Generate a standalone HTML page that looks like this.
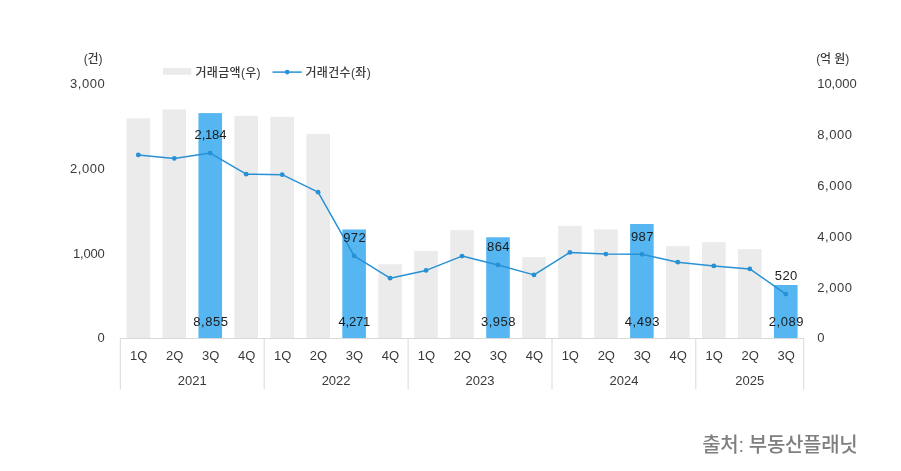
<!DOCTYPE html>
<html lang="ko"><head><meta charset="utf-8"><title>chart</title>
<style>
html,body{margin:0;padding:0;background:#fff;}
body{width:901px;height:471px;overflow:hidden;}
svg{display:block;}
text{font-family:"Liberation Sans","Noto Sans CJK KR","NanumGothic",sans-serif;}
.t{font-size:13px;fill:#3a3a3a;}
.d{font-size:13px;fill:#1c1c1c;}
.k{font-size:12px;fill:#3a3a3a;font-weight:500;}
.src{font-size:20px;fill:#7f7f7f;font-weight:500;}
</style></head><body>
<svg width="901" height="471" viewBox="0 0 901 471">
<rect width="901" height="471" fill="#fff"/>

<rect x="126.50" y="118.3" width="23.6" height="219.7" fill="#ebebeb"/>
<rect x="162.47" y="109.3" width="23.6" height="228.7" fill="#ebebeb"/>
<rect x="198.44" y="113.1" width="23.6" height="224.9" fill="#56b6f1"/>
<rect x="234.41" y="115.8" width="23.6" height="222.2" fill="#ebebeb"/>
<rect x="270.38" y="116.8" width="23.6" height="221.2" fill="#ebebeb"/>
<rect x="306.35" y="133.9" width="23.6" height="204.1" fill="#ebebeb"/>
<rect x="342.32" y="229.5" width="23.6" height="108.5" fill="#56b6f1"/>
<rect x="378.29" y="264.2" width="23.6" height="73.8" fill="#ebebeb"/>
<rect x="414.26" y="250.9" width="23.6" height="87.1" fill="#ebebeb"/>
<rect x="450.23" y="230.1" width="23.6" height="107.9" fill="#ebebeb"/>
<rect x="486.20" y="237.3" width="23.6" height="100.7" fill="#56b6f1"/>
<rect x="522.17" y="257.1" width="23.6" height="80.9" fill="#ebebeb"/>
<rect x="558.14" y="225.8" width="23.6" height="112.2" fill="#ebebeb"/>
<rect x="594.11" y="229.3" width="23.6" height="108.7" fill="#ebebeb"/>
<rect x="630.08" y="224.0" width="23.6" height="114.0" fill="#56b6f1"/>
<rect x="666.05" y="246.1" width="23.6" height="91.9" fill="#ebebeb"/>
<rect x="702.02" y="242.1" width="23.6" height="95.9" fill="#ebebeb"/>
<rect x="737.99" y="249.1" width="23.6" height="88.9" fill="#ebebeb"/>
<rect x="773.96" y="285.0" width="23.6" height="53.0" fill="#56b6f1"/>
<g stroke="#d9d9d9" stroke-width="1" fill="none">
<line x1="120.3" y1="338.5" x2="803.7" y2="338.5"/>
<line x1="120.3" y1="338" x2="120.3" y2="389.5"/>
<line x1="264.2" y1="338" x2="264.2" y2="389.5"/>
<line x1="408.1" y1="338" x2="408.1" y2="389.5"/>
<line x1="552.0" y1="338" x2="552.0" y2="389.5"/>
<line x1="695.8" y1="338" x2="695.8" y2="389.5"/>
<line x1="803.7" y1="338" x2="803.7" y2="389.5"/>
</g>
<polyline points="138.3,154.9 174.3,158.4 210.2,153.1 246.2,174.2 282.2,174.7 318.1,192.2 354.1,255.9 390.1,278.2 426.1,270.4 462.0,256.1 498.0,265.0 534.0,274.9 569.9,252.4 605.9,254.1 641.9,254.3 677.8,262.2 713.8,265.9 749.8,268.9 785.8,294.1" fill="none" stroke="#2891d5" stroke-width="1.5" stroke-linejoin="round"/>
<circle cx="138.3" cy="154.9" r="2.4" fill="#2891d5"/>
<circle cx="174.3" cy="158.4" r="2.4" fill="#2891d5"/>
<circle cx="210.2" cy="153.1" r="2.4" fill="#2891d5"/>
<circle cx="246.2" cy="174.2" r="2.4" fill="#2891d5"/>
<circle cx="282.2" cy="174.7" r="2.4" fill="#2891d5"/>
<circle cx="318.1" cy="192.2" r="2.4" fill="#2891d5"/>
<circle cx="354.1" cy="255.9" r="2.4" fill="#2891d5"/>
<circle cx="390.1" cy="278.2" r="2.4" fill="#2891d5"/>
<circle cx="426.1" cy="270.4" r="2.4" fill="#2891d5"/>
<circle cx="462.0" cy="256.1" r="2.4" fill="#2891d5"/>
<circle cx="498.0" cy="265.0" r="2.4" fill="#2891d5"/>
<circle cx="534.0" cy="274.9" r="2.4" fill="#2891d5"/>
<circle cx="569.9" cy="252.4" r="2.4" fill="#2891d5"/>
<circle cx="605.9" cy="254.1" r="2.4" fill="#2891d5"/>
<circle cx="641.9" cy="254.3" r="2.4" fill="#2891d5"/>
<circle cx="677.8" cy="262.2" r="2.4" fill="#2891d5"/>
<circle cx="713.8" cy="265.9" r="2.4" fill="#2891d5"/>
<circle cx="749.8" cy="268.9" r="2.4" fill="#2891d5"/>
<circle cx="785.8" cy="294.1" r="2.4" fill="#2891d5"/>
<text class="d" x="194.6" y="139.0" textLength="31.8" lengthAdjust="spacing">2,184</text>
<text class="d" x="193.2" y="326.0" textLength="34.7" lengthAdjust="spacing">8,855</text>
<text class="d" x="343.2" y="242.0" textLength="22.5" lengthAdjust="spacing">972</text>
<text class="d" x="338.5" y="326.0" textLength="31.8" lengthAdjust="spacing">4,271</text>
<text class="d" x="487.1" y="251.0" textLength="22.5" lengthAdjust="spacing">864</text>
<text class="d" x="480.9" y="326.0" textLength="34.7" lengthAdjust="spacing">3,958</text>
<text class="d" x="630.9" y="241.0" textLength="22.5" lengthAdjust="spacing">987</text>
<text class="d" x="624.8" y="326.0" textLength="34.7" lengthAdjust="spacing">4,493</text>
<text class="d" x="774.8" y="280.0" textLength="22.5" lengthAdjust="spacing">520</text>
<text class="d" x="768.7" y="326.0" textLength="34.7" lengthAdjust="spacing">2,089</text>
<text class="t" x="138.7" y="360.3" text-anchor="middle">1Q</text>
<text class="t" x="174.7" y="360.3" text-anchor="middle">2Q</text>
<text class="t" x="210.6" y="360.3" text-anchor="middle">3Q</text>
<text class="t" x="246.6" y="360.3" text-anchor="middle">4Q</text>
<text class="t" x="282.6" y="360.3" text-anchor="middle">1Q</text>
<text class="t" x="318.5" y="360.3" text-anchor="middle">2Q</text>
<text class="t" x="354.5" y="360.3" text-anchor="middle">3Q</text>
<text class="t" x="390.5" y="360.3" text-anchor="middle">4Q</text>
<text class="t" x="426.5" y="360.3" text-anchor="middle">1Q</text>
<text class="t" x="462.4" y="360.3" text-anchor="middle">2Q</text>
<text class="t" x="498.4" y="360.3" text-anchor="middle">3Q</text>
<text class="t" x="534.4" y="360.3" text-anchor="middle">4Q</text>
<text class="t" x="570.3" y="360.3" text-anchor="middle">1Q</text>
<text class="t" x="606.3" y="360.3" text-anchor="middle">2Q</text>
<text class="t" x="642.3" y="360.3" text-anchor="middle">3Q</text>
<text class="t" x="678.2" y="360.3" text-anchor="middle">4Q</text>
<text class="t" x="714.2" y="360.3" text-anchor="middle">1Q</text>
<text class="t" x="750.2" y="360.3" text-anchor="middle">2Q</text>
<text class="t" x="786.2" y="360.3" text-anchor="middle">3Q</text>
<text class="t" x="192.3" y="385.4" text-anchor="middle">2021</text>
<text class="t" x="336.1" y="385.4" text-anchor="middle">2022</text>
<text class="t" x="480.0" y="385.4" text-anchor="middle">2023</text>
<text class="t" x="623.9" y="385.4" text-anchor="middle">2024</text>
<text class="t" x="749.8" y="385.4" text-anchor="middle">2025</text>
<text class="t" x="97.6" y="342.0" textLength="7.1" lengthAdjust="spacing">0</text>
<text class="t" x="72.9" y="258.0" textLength="31.8" lengthAdjust="spacing">1,000</text>
<text class="t" x="70.0" y="173.0" textLength="34.7" lengthAdjust="spacing">2,000</text>
<text class="t" x="70.0" y="88.0" textLength="34.7" lengthAdjust="spacing">3,000</text>
<text class="k" x="83.8" y="63.3" textLength="18.6" lengthAdjust="spacing">(건)</text>
<text class="t" x="817.2" y="342.0" textLength="7.1" lengthAdjust="spacing">0</text>
<text class="t" x="817.2" y="292.0" textLength="34.7" lengthAdjust="spacing">2,000</text>
<text class="t" x="817.2" y="241.0" textLength="34.7" lengthAdjust="spacing">4,000</text>
<text class="t" x="817.2" y="190.0" textLength="34.7" lengthAdjust="spacing">6,000</text>
<text class="t" x="817.2" y="139.0" textLength="34.7" lengthAdjust="spacing">8,000</text>
<text class="t" x="817.2" y="88.0" textLength="39.5" lengthAdjust="spacing">10,000</text>
<text class="k" x="816.2" y="63.3" textLength="33" lengthAdjust="spacing">(억 원)</text>
<rect x="163" y="68" width="28.3" height="6.8" fill="#ebebeb"/>
<text class="k" x="195.4" y="76.6" textLength="65.2" lengthAdjust="spacing">거래금액(우)</text>
<line x1="272.5" y1="72.1" x2="301.8" y2="72.1" stroke="#2891d5" stroke-width="1.5"/>
<circle cx="287.2" cy="72.1" r="2.3" fill="#2891d5"/>
<text class="k" x="305.5" y="76.6" textLength="65.2" lengthAdjust="spacing">거래건수(좌)</text>
<text class="src" x="702.3" y="452" textLength="155.3" lengthAdjust="spacing">출처: 부동산플래닛</text>
</svg></body></html>
